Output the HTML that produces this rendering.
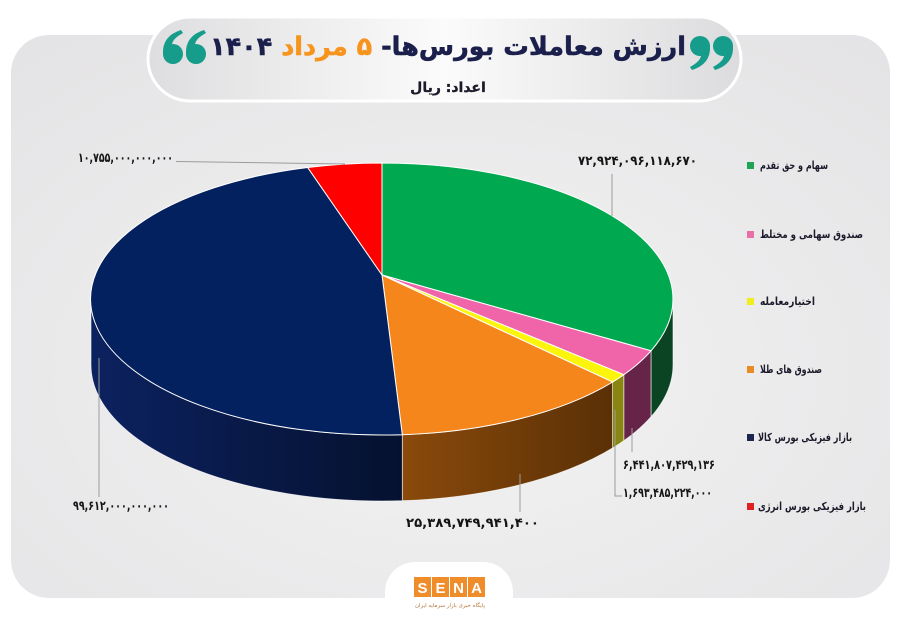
<!DOCTYPE html>
<html><head><meta charset="utf-8">
<style>
html,body{margin:0;padding:0;background:#fff;}
#w{position:relative;width:900px;height:623px;overflow:hidden;background:#fff;}
svg{position:absolute;left:0;top:0;}
.t{position:absolute;left:0;width:896px;text-align:center;direction:rtl;font-family:"DejaVu Sans",sans-serif;font-weight:bold;line-height:1;white-space:nowrap;}
</style></head><body>
<div id="w">
<svg width="900" height="623" viewBox="0 0 900 623" xmlns="http://www.w3.org/2000/svg">
<defs>
<radialGradient id="bg" cx="0.5" cy="0.6" r="0.75">
<stop offset="0" stop-color="#f3f3f3"/><stop offset="1" stop-color="#e4e3e5"/>
</radialGradient>
<linearGradient id="pill" x1="0" y1="0" x2="1" y2="0">
<stop offset="0" stop-color="#dedddf"/><stop offset="0.5" stop-color="#fbfbfb"/><stop offset="1" stop-color="#dcdbdd"/>
</linearGradient>
<linearGradient id="navyS" gradientUnits="userSpaceOnUse" x1="91" y1="0" x2="402" y2="0">
<stop offset="0" stop-color="#0c2260"/><stop offset="1" stop-color="#05112f"/>
</linearGradient>
<linearGradient id="orS" gradientUnits="userSpaceOnUse" x1="402" y1="0" x2="613" y2="0">
<stop offset="0" stop-color="#8a4a0b"/><stop offset="1" stop-color="#5a3006"/>
</linearGradient>
</defs>
<rect x="11" y="35" width="879" height="563" rx="38" fill="url(#bg)"/>
<!-- title pill -->
<rect x="148" y="17" width="593" height="84" rx="42" fill="url(#pill)" stroke="#ffffff" stroke-width="3"/>
<!-- quotes left 66 -->
<g fill="#169c8a">
<circle cx="173" cy="54" r="10"/>
<path d="M163,54 Q162,36 181,30 L183,33 Q172,39 172,45 Z"/>
<circle cx="196" cy="54" r="10"/>
<path d="M186,54 Q185,36 204,30 L206,33 Q195,39 195,45 Z"/>
<!-- right 99 -->
<circle cx="700" cy="46" r="10"/>
<path d="M710,46 Q711,64 692,70 L690,67 Q701,61 701,55 Z"/>
<circle cx="723" cy="46" r="10"/>
<path d="M733,46 Q734,64 715,70 L713,67 Q724,61 724,55 Z"/>
</g>

<!-- pie sides -->
<g stroke="#ffffff" stroke-width="0.8" stroke-opacity="0.7">
<path d="M673,299 A291,136 0 0 1 651,350.8 L651,416.8 A291,136 0 0 0 673,365 Z" fill="#0b4423"/>
<path d="M651,350.8 A291,136 0 0 1 623.8,374.7 L623.8,440.7 A291,136 0 0 0 651,416.8 Z" fill="#652448"/>
<path d="M623.8,374.7 A291,136 0 0 1 612.6,382 L612.6,448 A291,136 0 0 0 623.8,440.7 Z" fill="#8a8612"/>
<path d="M612.6,382 A291,136 0 0 1 402.3,434.7 L402.3,500.7 A291,136 0 0 0 612.6,448 Z" fill="url(#orS)"/>
<path d="M402.3,434.7 A291,136 0 0 1 91,299 L91,365 A291,136 0 0 0 402.3,500.7 Z" fill="url(#navyS)"/>
</g>
<!-- pie tops -->
<g stroke="#ffffff" stroke-width="1">
<path d="M382,275 L382,163 A291,136 0 0 1 651,350.8 Z" fill="#00a84f"/>
<path d="M382,275 L651,350.8 A291,136 0 0 1 623.8,374.7 Z" fill="#f064a9"/>
<path d="M382,275 L623.8,374.7 A291,136 0 0 1 612.6,382 Z" fill="#fbf50c"/>
<path d="M382,275 L612.6,382 A291,136 0 0 1 402.3,434.7 Z" fill="#f4861c"/>
<path d="M382,275 L402.3,434.7 A291,136 0 0 1 307.7,167.5 Z" fill="#03215f"/>
<path d="M382,275 L307.7,167.5 A291,136 0 0 1 382,163 Z" fill="#ff0000"/>
</g>

<!-- leader lines -->
<g stroke="#9c9c9c" stroke-width="1" fill="none">
<line x1="176" y1="161.5" x2="345" y2="164"/>
<line x1="612" y1="174" x2="612" y2="216"/>
<line x1="632" y1="428" x2="632" y2="452"/>
<polyline points="615,410 615,496 622,496"/>
<line x1="520" y1="474" x2="520" y2="512"/>
<line x1="99" y1="358" x2="99" y2="497"/>
</g>

<!-- value labels -->
<g font-family="'DejaVu Sans',sans-serif" font-weight="bold" font-size="13" fill="#151515">
<text x="78" y="162" textLength="95" lengthAdjust="spacingAndGlyphs" direction="ltr">۱۰,۷۵۵,۰۰۰,۰۰۰,۰۰۰</text>
<text x="578" y="165" textLength="119" lengthAdjust="spacingAndGlyphs" direction="ltr">۷۲,۹۲۴,۰۹۶,۱۱۸,۶۷۰</text>
<text x="623" y="469" textLength="92" lengthAdjust="spacingAndGlyphs" direction="ltr">۶,۴۴۱,۸۰۷,۴۲۹,۱۳۶</text>
<text x="623" y="497" textLength="89" lengthAdjust="spacingAndGlyphs" direction="ltr">۱,۶۹۳,۴۸۵,۲۲۴,۰۰۰</text>
<text x="406" y="527" textLength="133" lengthAdjust="spacingAndGlyphs" direction="ltr">۲۵,۳۸۹,۷۴۹,۹۴۱,۴۰۰</text>
<text x="73" y="510" textLength="96" lengthAdjust="spacingAndGlyphs" direction="ltr">۹۹,۶۱۲,۰۰۰,۰۰۰,۰۰۰</text>
</g>

<!-- legend -->
<rect x="747" y="162" width="7" height="7" fill="#1fa355"/>
<rect x="747" y="231" width="7" height="7" fill="#e86fa8"/>
<rect x="747" y="298" width="7" height="7" fill="#f2ee1e"/>
<rect x="747" y="366" width="7" height="7" fill="#e88b23"/>
<rect x="747" y="434" width="7" height="7" fill="#1a2550"/>
<rect x="747" y="503" width="7" height="7" fill="#e02020"/>
<g font-family="'DejaVu Sans',sans-serif" font-weight="bold" font-size="11" fill="#1a1a2a">
<text x="760" y="169" textLength="68" lengthAdjust="spacingAndGlyphs">سهام و حق تقدم</text>
<text x="760" y="238" textLength="103" lengthAdjust="spacingAndGlyphs">صندوق سهامی و مختلط</text>
<text x="760" y="305" textLength="55" lengthAdjust="spacingAndGlyphs">اختیارمعامله</text>
<text x="760" y="373" textLength="62" lengthAdjust="spacingAndGlyphs">صندوق های طلا</text>
<text x="758" y="441" textLength="94" lengthAdjust="spacingAndGlyphs">بازار فیزیکی بورس کالا</text>
<text x="758" y="510" textLength="108" lengthAdjust="spacingAndGlyphs">بازار فیزیکی بورس انرژی</text>
</g>

<!-- logo -->
<rect x="385" y="562" width="128" height="80" rx="30" fill="#ffffff"/>
<g fill="#ef8d2b">
<rect x="414" y="577" width="17" height="20"/>
<rect x="432" y="577" width="17" height="20"/>
<rect x="450" y="577" width="17" height="20"/>
<rect x="468" y="577" width="17" height="20"/>
</g>
<g font-family="'Liberation Sans',sans-serif" font-weight="bold" font-size="15" fill="#ffffff" text-anchor="middle">
<text x="422.5" y="593">S</text><text x="440.5" y="593">E</text><text x="458.5" y="593">N</text><text x="476.5" y="593">A</text>
</g>
<text x="450" y="607" text-anchor="middle" font-family="'DejaVu Sans',sans-serif" font-size="5.5" fill="#b5773a" textLength="70" lengthAdjust="spacingAndGlyphs">پایگاه خبری بازار سرمایه ایران</text>
</svg>

<div class="t" style="top:35px;font-size:25.5px;color:#1b1f4b;-webkit-text-stroke:0.5px #1b1f4b;">ارزش معاملات بورس‌ها- <span style="color:#f7941d;-webkit-text-stroke:0.5px #f7941d;">۵ مرداد</span> ۱۴۰۴</div>
<div class="t" style="top:81px;font-size:14px;color:#1b1b2b;-webkit-text-stroke:0.3px #1b1b2b;">اعداد: ریال</div>
</div>
</body></html>
